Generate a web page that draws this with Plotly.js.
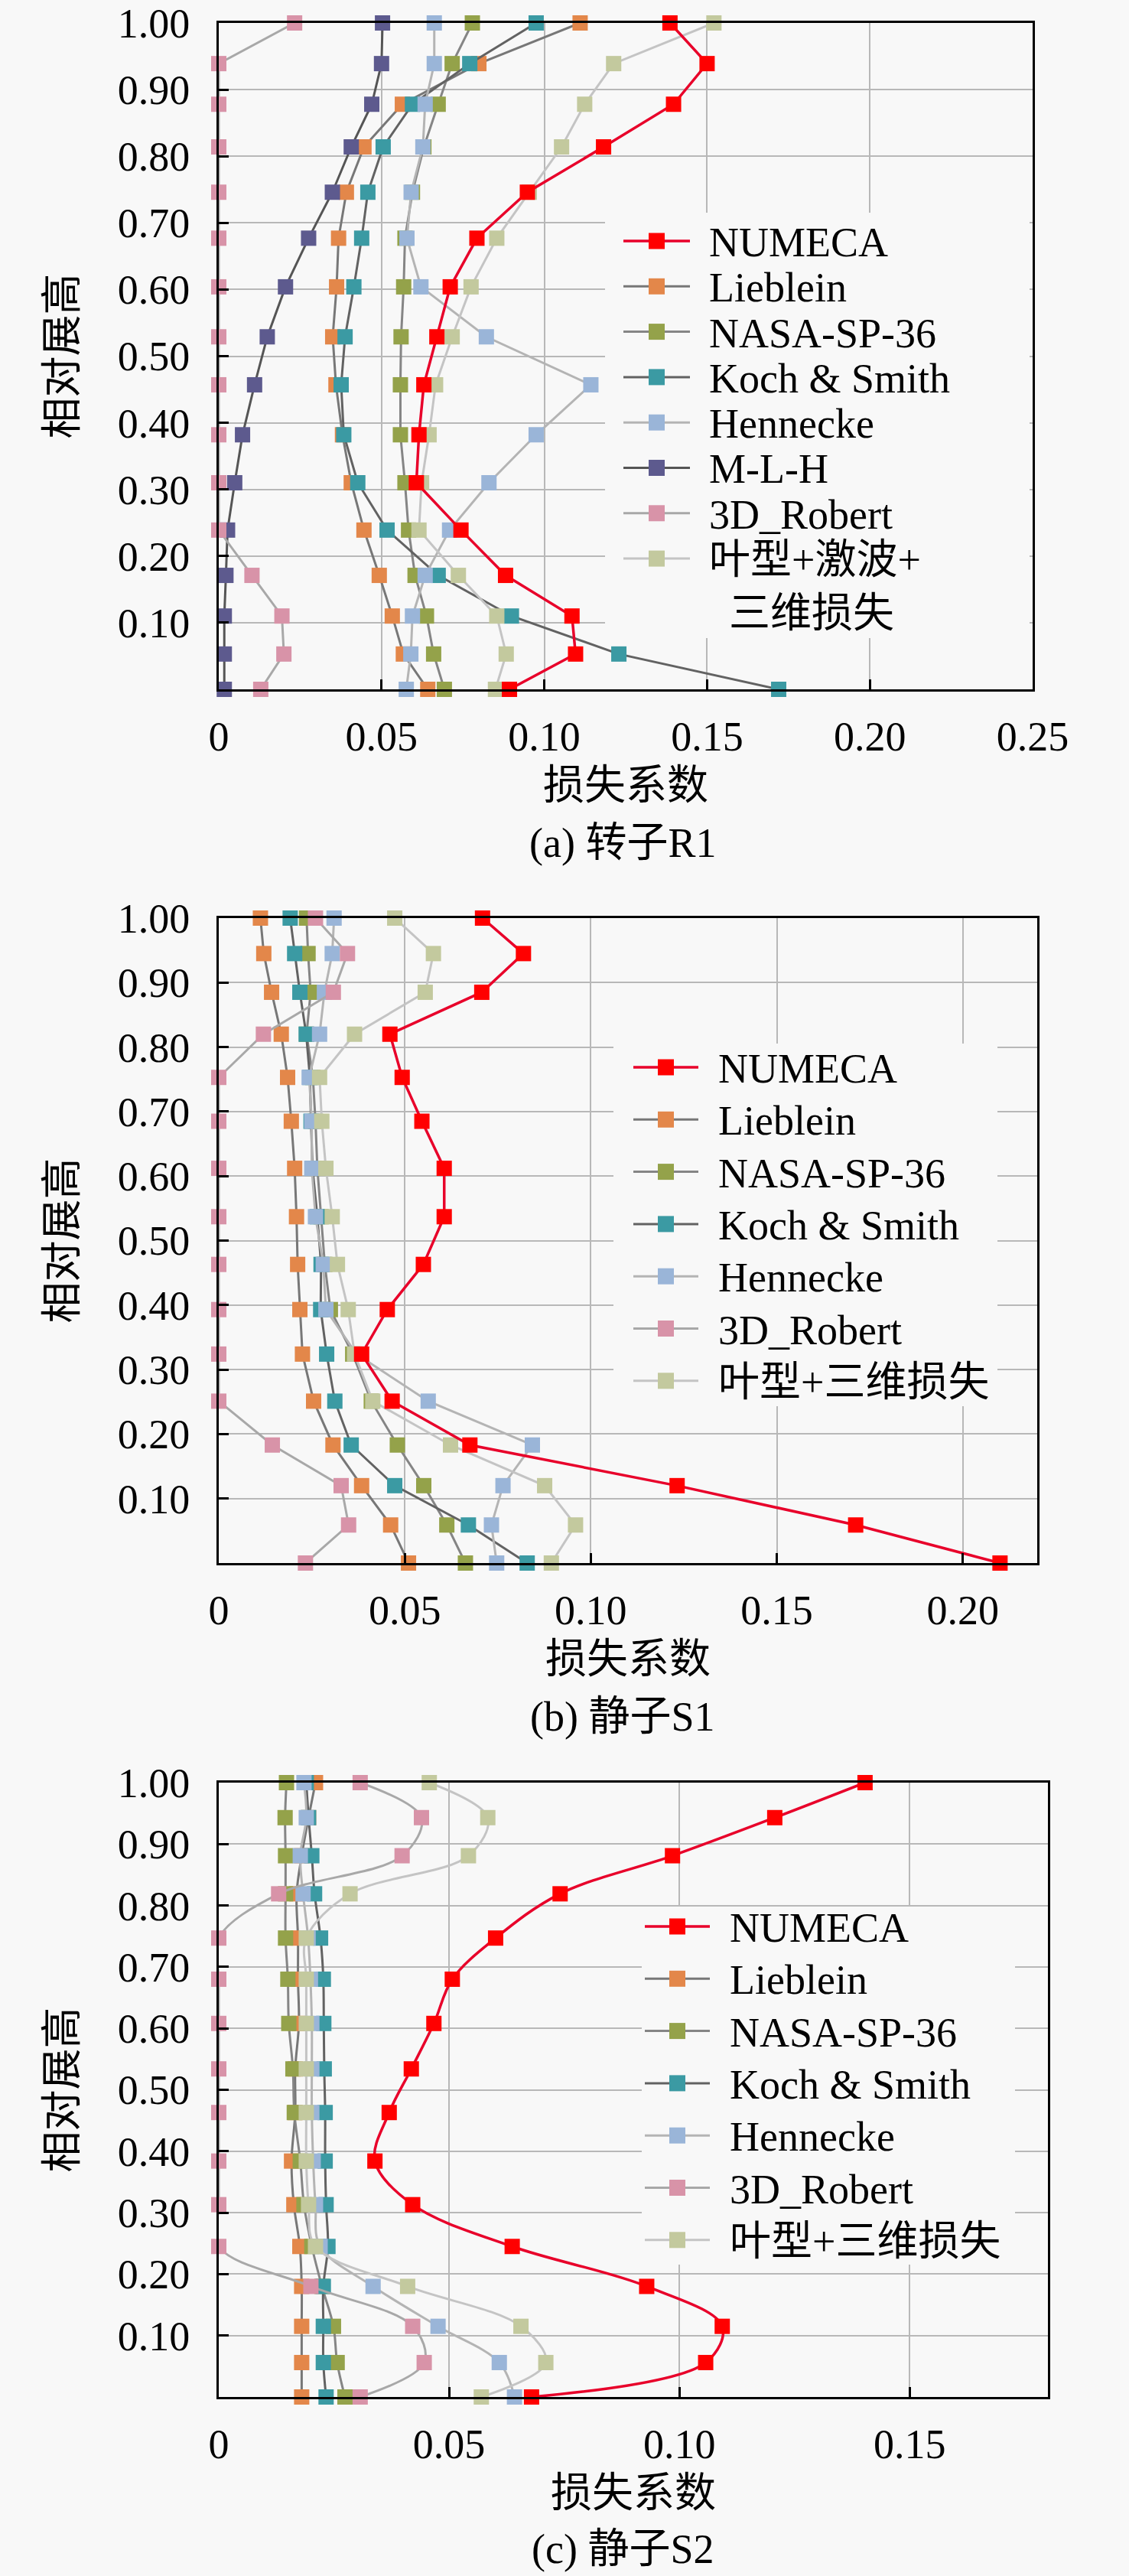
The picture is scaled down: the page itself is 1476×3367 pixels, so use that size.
<!DOCTYPE html>
<html>
<head>
<meta charset="utf-8">
<script src="https://cdn.plot.ly/plotly-3.0.1.min.js"></script>
<style>
  html, body { margin: 0; padding: 0; background: #f8f8f8; }
  #chart { width: 1476px; height: 3367px; }
</style>
</head>
<body>
<div id="chart"></div>
<script>
// ── Données ──────────────────────────────────────────
// (a) rotor R1
const spanR1      = [1.0, 0.939, 0.878, 0.814, 0.746, 0.677, 0.604, 0.529, 0.457, 0.382, 0.310, 0.239, 0.171, 0.110, 0.053, 0];
const numecaR1    = [0.1386, 0.150, 0.1397, 0.1182, 0.0948, 0.0793, 0.0711, 0.0670, 0.0630, 0.0615, 0.0607, 0.0744, 0.0881, 0.1085, 0.1096, 0.0893];
const liebleinR1  = [0.111, 0.0799, 0.0564, 0.0446, 0.0392, 0.0368, 0.0362, 0.0350, 0.0360, 0.0380, 0.0407, 0.0446, 0.0493, 0.0533, 0.0567, 0.0642];
const nasaR1      = [0.0779, 0.0717, 0.0674, 0.0630, 0.0595, 0.0572, 0.0568, 0.0560, 0.0558, 0.0558, 0.0572, 0.0583, 0.0603, 0.0638, 0.0660, 0.0693];
const kochR1      = [0.0975, 0.0771, 0.0595, 0.0505, 0.0458, 0.0439, 0.0415, 0.0388, 0.0376, 0.0384, 0.0427, 0.0517, 0.0674, 0.0899, 0.1229, 0.172];
const henneckeR1  = [0.0662, 0.0662, 0.0634, 0.0627, 0.0591, 0.0578, 0.0621, 0.0822, 0.1143, 0.0975, 0.0830, 0.0709, 0.0634, 0.0595, 0.0590, 0.0576];
const mlhR1       = [0.0503, 0.0500, 0.0470, 0.0407, 0.0349, 0.0276, 0.0205, 0.0149, 0.0110, 0.0073, 0.0049, 0.0027, 0.0022, 0.0017, 0.0017, 0.0017];
const robertR1    = [0.0233, 0, 0, 0, 0, 0, 0, 0, 0, 0, 0, 0, 0.0102, 0.0194, 0.0200, 0.0129];
const profilR1    = [0.1521, 0.1213, 0.1124, 0.1053, 0.0954, 0.0854, 0.0775, 0.0717, 0.0666, 0.0646, 0.0623, 0.0615, 0.0736, 0.0854, 0.0883, 0.0850];

// (b) stator S1
const spanS1      = [1.0, 0.945, 0.885, 0.820, 0.753, 0.685, 0.612, 0.537, 0.463, 0.393, 0.324, 0.251, 0.183, 0.120, 0.059, 0];
const numecaS1    = [0.0709, 0.0819, 0.0707, 0.0460, 0.0493, 0.0546, 0.0606, 0.0606, 0.0550, 0.0453, 0.0384, 0.0466, 0.0675, 0.1232, 0.1712, 0.210];
const liebleinS1  = [0.0112, 0.0121, 0.0142, 0.0168, 0.0185, 0.0195, 0.0204, 0.0209, 0.0212, 0.0218, 0.0225, 0.0255, 0.0307, 0.0384, 0.0462, 0.0510];
const nasaS1      = [0.0236, 0.0240, 0.0247, 0.0236, 0.0253, 0.0260, 0.0265, 0.0275, 0.0285, 0.0300, 0.0360, 0.0410, 0.0480, 0.0551, 0.0613, 0.0663];
const kochS1      = [0.0192, 0.0204, 0.0218, 0.0235, 0.0245, 0.0248, 0.0252, 0.0265, 0.0275, 0.0274, 0.0290, 0.0312, 0.0356, 0.0473, 0.0671, 0.0829];
const henneckeS1  = [0.0310, 0.0305, 0.0284, 0.0271, 0.0243, 0.0250, 0.0250, 0.0260, 0.0281, 0.0288, 0.0370, 0.0563, 0.0843, 0.0764, 0.0733, 0.0747];
const robertS1    = [0.0260, 0.0346, 0.0308, 0.0120, 0, 0, 0, 0, 0, 0, 0, 0, 0.0144, 0.0329, 0.0349, 0.0233];
const profilS1    = [0.0473, 0.0577, 0.0555, 0.0365, 0.0271, 0.0277, 0.0288, 0.0305, 0.0319, 0.0348, 0.0365, 0.0414, 0.0623, 0.0876, 0.0959, 0.0894];

// (c) stator S2
const spanS2      = [1.0, 0.943, 0.881, 0.819, 0.747, 0.680, 0.608, 0.534, 0.463, 0.384, 0.313, 0.245, 0.180, 0.115, 0.056, 0];
const numecaS2    = [0.1403, 0.1207, 0.0985, 0.0741, 0.0601, 0.0507, 0.0467, 0.0418, 0.0370, 0.0339, 0.0421, 0.0637, 0.0929, 0.1093, 0.1057, 0.0679];
const liebleinS2  = [0.0210, 0.0195, 0.0180, 0.0169, 0.0172, 0.0172, 0.0174, 0.0166, 0.0166, 0.0158, 0.0163, 0.0176, 0.0180, 0.0180, 0.0180, 0.0180];
const nasaS2      = [0.0147, 0.0144, 0.0145, 0.0145, 0.0145, 0.0150, 0.0152, 0.0161, 0.0164, 0.0177, 0.0185, 0.0202, 0.0224, 0.0249, 0.0257, 0.0274];
const kochS2      = [0.0190, 0.0195, 0.0202, 0.0208, 0.0221, 0.0227, 0.0228, 0.0229, 0.0231, 0.0231, 0.0233, 0.0237, 0.0227, 0.0227, 0.0227, 0.0233];
const henneckeS2  = [0.0185, 0.0190, 0.0177, 0.0183, 0.0194, 0.0199, 0.0202, 0.0202, 0.0202, 0.0205, 0.0210, 0.0220, 0.0335, 0.0476, 0.0609, 0.0642];
const robertS2    = [0.0307, 0.0440, 0.0398, 0.0130, 0, 0, 0, 0, 0, 0, 0, 0, 0.0200, 0.0421, 0.0446, 0.0307];
const profilS2    = [0.0457, 0.0584, 0.0542, 0.0285, 0.0190, 0.0190, 0.0190, 0.0190, 0.0190, 0.0190, 0.0195, 0.0210, 0.0410, 0.0656, 0.0710, 0.0570];

const yTickVals = [0.1, 0.2, 0.3, 0.4, 0.5, 0.6, 0.7, 0.8, 0.9, 1.0];
const yTickText = ['0.10', '0.20', '0.30', '0.40', '0.50', '0.60', '0.70', '0.80', '0.90', '1.00'];
const xTickValsR1 = [0, 0.05, 0.10, 0.15, 0.20, 0.25];
const xTickTextR1 = ['0', '0.05', '0.10', '0.15', '0.20', '0.25'];
const xTickValsS1 = [0, 0.05, 0.10, 0.15, 0.20];
const xTickTextS1 = ['0', '0.05', '0.10', '0.15', '0.20'];
const xTickValsS2 = [0, 0.05, 0.10, 0.15];
const xTickTextS2 = ['0', '0.05', '0.10', '0.15'];

// ── Styles ───────────────────────────────────────────
const FONT = '"Liberation Serif", "Times New Roman", "Noto Sans CJK SC", serif';
const BG   = '#f8f8f8';
const W = 1476, H = 3367;

const STYLE = {
  numeca:    { name: 'NUMECA',       marker: '#ff0000', line: '#e8002a' },
  lieblein:  { name: 'Lieblein',     marker: '#e3874a', line: '#777777' },
  nasa:      { name: 'NASA-SP-36',   marker: '#94a24a', line: '#858585' },
  koch:      { name: 'Koch & Smith', marker: '#3b9aa3', line: '#626262' },
  hennecke:  { name: 'Hennecke',     marker: '#9ab5d8', line: '#b4b4b4' },
  mlh:       { name: 'M-L-H',        marker: '#5d5a8e', line: '#555555' },
  robert:    { name: '3D_Robert',    marker: '#d893a8', line: '#a8a8a8' },
  profil:    { name: '叶型+三维损失', marker: '#c3c99e', line: '#c4c4c4' },
};

// pixels -> fractions du papier
const px = v => v / W;
const py = v => 1 - v / H;

function serie(key, xs, ys, axis, shape) {
  const s = STYLE[key];
  return {
    x: xs, y: ys,
    xaxis: 'x' + axis, yaxis: 'y' + axis,
    type: 'scatter', mode: 'lines+markers',
    name: s.name, showlegend: false,
    line:   { color: s.line, width: key === 'numeca' ? 3.5 : 3, shape: shape },
    marker: { symbol: 'square', size: 20, color: s.marker, line: { width: 0 } },
    cliponaxis: false,
  };
}

// ordre de tracé : NUMECA en dernier (au-dessus)
const traces = [
  serie('lieblein', liebleinR1, spanR1, '',  'linear'),
  serie('nasa',     nasaR1,     spanR1, '',  'linear'),
  serie('koch',     kochR1,     spanR1, '',  'linear'),
  serie('hennecke', henneckeR1, spanR1, '',  'linear'),
  serie('mlh',      mlhR1,      spanR1, '',  'linear'),
  serie('robert',   robertR1,   spanR1, '',  'linear'),
  serie('profil',   profilR1,   spanR1, '',  'linear'),
  serie('numeca',   numecaR1,   spanR1, '',  'linear'),

  serie('lieblein', liebleinS1, spanS1, '2', 'linear'),
  serie('nasa',     nasaS1,     spanS1, '2', 'linear'),
  serie('koch',     kochS1,     spanS1, '2', 'linear'),
  serie('hennecke', henneckeS1, spanS1, '2', 'linear'),
  serie('robert',   robertS1,   spanS1, '2', 'linear'),
  serie('profil',   profilS1,   spanS1, '2', 'linear'),
  serie('numeca',   numecaS1,   spanS1, '2', 'linear'),

  serie('lieblein', liebleinS2, spanS2, '3', 'spline'),
  serie('nasa',     nasaS2,     spanS2, '3', 'spline'),
  serie('koch',     kochS2,     spanS2, '3', 'spline'),
  serie('hennecke', henneckeS2, spanS2, '3', 'spline'),
  serie('robert',   robertS2,   spanS2, '3', 'spline'),
  serie('profil',   profilS2,   spanS2, '3', 'spline'),
  serie('numeca',   numecaS2,   spanS2, '3', 'spline'),
];

// ── Légendes (dessinées à la main pour garder l'interligne serré) ──
const LEGENDS = [
  { keys: ['numeca', 'lieblein', 'nasa', 'koch', 'hennecke', 'mlh', 'robert', 'profil'],
    labels: { profil: ['叶型+激波+', '三维损失'] },
    box: [791, 278, 1346, 834], line: [815, 902], text: 925, y0: 315, dy: 59.3, wrap: 70, indent: 26 },
  { keys: ['numeca', 'lieblein', 'nasa', 'koch', 'hennecke', 'robert', 'profil'],
    labels: {},
    box: [802, 1364, 1304, 1838], line: [828, 913], text: 937, y0: 1395, dy: 68.3 },
  { keys: ['numeca', 'lieblein', 'nasa', 'koch', 'hennecke', 'robert', 'profil'],
    labels: {},
    box: [839, 2492, 1327, 2960], line: [843, 928], text: 952, y0: 2518, dy: 68.3 },
];

const shapes = [];
const annotations = [];

function txt(text, x, y, anchor = 'left') {
  annotations.push({
    text, xref: 'paper', yref: 'paper', x: px(x), y: py(y),
    xanchor: anchor, yanchor: 'middle', showarrow: false,
    font: { family: FONT, size: 54, color: '#000' },
  });
}

LEGENDS.forEach(lg => {
  const [bx0, by0, bx1, by1] = lg.box;
  shapes.push({ type: 'rect', xref: 'paper', yref: 'paper', layer: 'above',
    x0: px(bx0), x1: px(bx1), y0: py(by0), y1: py(by1),
    fillcolor: BG, line: { width: 0 } });
  lg.keys.forEach((k, i) => {
    const s = STYLE[k];
    const y = lg.y0 + i * lg.dy;
    const xm = (lg.line[0] + lg.line[1]) / 2;
    shapes.push({ type: 'line', xref: 'paper', yref: 'paper', layer: 'above',
      x0: px(lg.line[0]), x1: px(lg.line[1]), y0: py(y), y1: py(y),
      line: { color: s.line, width: k === 'numeca' ? 3.5 : 3 } });
    shapes.push({ type: 'rect', xref: 'paper', yref: 'paper', layer: 'above',
      x0: px(xm - 10.5), x1: px(xm + 10.5), y0: py(y - 10.5), y1: py(y + 10.5),
      fillcolor: s.marker, line: { width: 0 } });
    const lab = lg.labels[k] || [s.name];
    txt(lab[0], lg.text, y + 2);
    if (lab[1]) txt(lab[1], lg.text + lg.indent, y + lg.wrap + 2);
  });
});

// légendes des sous-figures
const captions = [
  { text: '(a) 转子R1', y: 1102 },
  { text: '(b) 静子S1', y: 2244 },
  { text: '(c) 静子S2', y: 3332 },
];
captions.forEach(c => txt(c.text, 814, c.y, 'center'));

// ── Axes ─────────────────────────────────────────────
const AXIS = {
  showline: true, linecolor: '#000', linewidth: 3, mirror: true,
  ticks: 'inside', ticklen: 13, tickwidth: 3, tickcolor: '#000',
  showgrid: true, gridcolor: '#b8b8b8', gridwidth: 2,
  zeroline: false, automargin: false,
  tickfont: { family: FONT, size: 54, color: '#000' },
};

function xAxis(dom, range, vals, text, anchor) {
  return {
    ...AXIS, domain: dom, range, anchor,
    tickvals: vals, ticktext: text, ticklabelstandoff: 12,
    title: { text: '损失系数', font: { family: FONT, size: 54, color: '#000' }, standoff: 16 },
  };
}
function yAxis(dom, anchor) {
  return {
    ...AXIS, domain: dom, range: [0, 1], anchor,
    tickvals: yTickVals, ticktext: yTickText, ticklabelstandoff: 24,
    title: { text: '相对展高', font: { family: FONT, size: 54, color: '#000' }, standoff: 36 },
  };
}

const layout = {
  width: W, height: H,
  paper_bgcolor: BG, plot_bgcolor: BG,
  margin: { l: 0, r: 0, t: 0, b: 0 },
  font: { family: FONT, color: '#000' },
  showlegend: false,
  xaxis:  xAxis([px(286), px(1350)], [0, 0.25], xTickValsR1, xTickTextR1, 'y'),
  yaxis:  yAxis([py(901), py(30)], 'x'),
  xaxis2: xAxis([px(286), px(1356)], [0, 0.22], xTickValsS1, xTickTextS1, 'y2'),
  yaxis2: yAxis([py(2043), py(1200)], 'x2'),
  xaxis3: xAxis([px(286), px(1370)], [0, 0.18], xTickValsS2, xTickTextS2, 'y3'),
  yaxis3: yAxis([py(3133), py(2330)], 'x3'),
  shapes, annotations,
};

Plotly.newPlot('chart', traces, layout, { displayModeBar: false, staticPlot: true });
</script>
</body>
</html>
